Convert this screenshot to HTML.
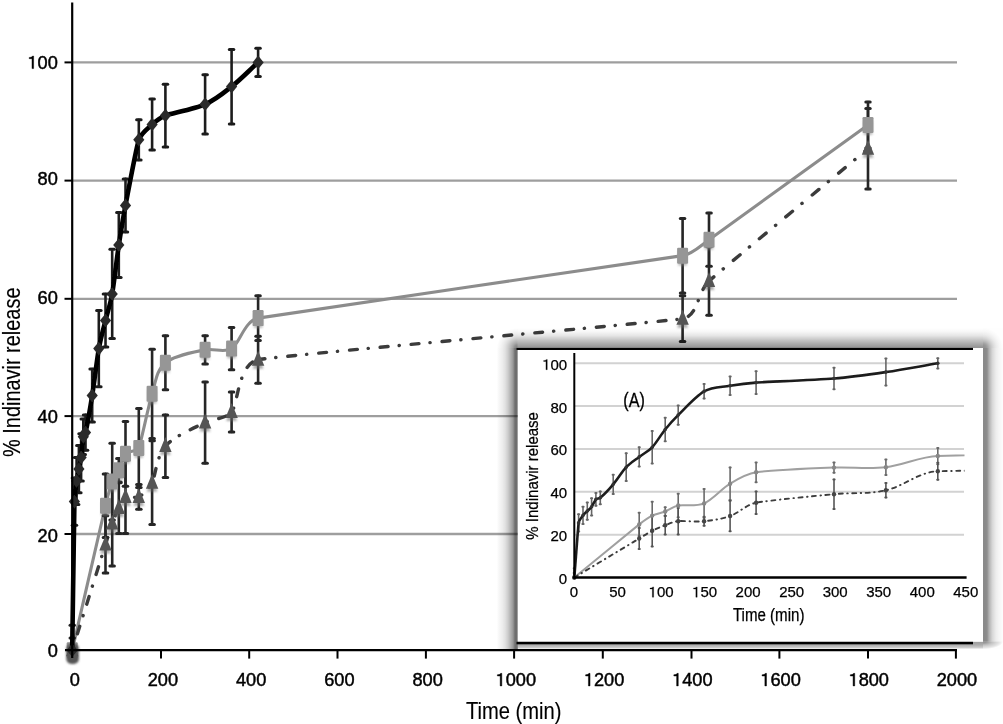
<!DOCTYPE html>
<html><head><meta charset="utf-8"><style>
html,body{margin:0;padding:0;background:#fff;}
body{width:1003px;height:724px;overflow:hidden;font-family:"Liberation Sans",sans-serif;}
svg{display:block;will-change:transform;}
</style></head><body>
<svg width="1003" height="724" viewBox="0 0 1003 724">
<defs>
<filter id="soft" x="-5%" y="-5%" width="110%" height="110%"><feGaussianBlur stdDeviation="0.6"/></filter>
<filter id="blob" x="-50%" y="-50%" width="200%" height="200%"><feGaussianBlur stdDeviation="1.3"/></filter>
<filter id="txt" x="-5%" y="-5%" width="110%" height="110%"><feGaussianBlur stdDeviation="0.25"/></filter>
<filter id="mshadow" x="-10%" y="-10%" width="120%" height="120%"><feGaussianBlur stdDeviation="1.3"/></filter>
<clipPath id="iclip"><rect x="560" y="350" width="404.5" height="240"/></clipPath>
<filter id="soft2" x="-5%" y="-5%" width="110%" height="110%"><feGaussianBlur stdDeviation="0.4"/></filter>
<filter id="shadow" x="-10%" y="-10%" width="120%" height="120%"><feGaussianBlur stdDeviation="5.5"/></filter>
<filter id="shadow2" x="-10%" y="-10%" width="120%" height="120%"><feGaussianBlur stdDeviation="1.6"/></filter>
<linearGradient id="gL" gradientUnits="userSpaceOnUse" x1="496.8" y1="0.0" x2="517.8" y2="0.0"><stop offset="0.0000" stop-color="#000" stop-opacity="0.000"/><stop offset="0.0952" stop-color="#000" stop-opacity="0.030"/><stop offset="0.2667" stop-color="#000" stop-opacity="0.070"/><stop offset="0.4000" stop-color="#000" stop-opacity="0.120"/><stop offset="0.5333" stop-color="#000" stop-opacity="0.200"/><stop offset="0.6667" stop-color="#000" stop-opacity="0.310"/><stop offset="0.7714" stop-color="#000" stop-opacity="0.400"/><stop offset="0.8286" stop-color="#000" stop-opacity="0.500"/><stop offset="0.8667" stop-color="#000" stop-opacity="0.570"/><stop offset="1.0000" stop-color="#000" stop-opacity="0.570"/></linearGradient><linearGradient id="gR" gradientUnits="userSpaceOnUse" x1="983.0" y1="0.0" x2="1003.0" y2="0.0"><stop offset="0.0000" stop-color="#000" stop-opacity="0.420"/><stop offset="0.0300" stop-color="#000" stop-opacity="0.470"/><stop offset="0.2000" stop-color="#000" stop-opacity="0.450"/><stop offset="0.3000" stop-color="#000" stop-opacity="0.310"/><stop offset="0.4650" stop-color="#000" stop-opacity="0.160"/><stop offset="0.6500" stop-color="#000" stop-opacity="0.070"/><stop offset="0.8500" stop-color="#000" stop-opacity="0.030"/><stop offset="1.0000" stop-color="#000" stop-opacity="0.010"/></linearGradient><linearGradient id="gT" gradientUnits="userSpaceOnUse" x1="0.0" y1="328.0" x2="0.0" y2="348.0"><stop offset="0.0000" stop-color="#000" stop-opacity="0.000"/><stop offset="0.1700" stop-color="#000" stop-opacity="0.030"/><stop offset="0.3800" stop-color="#000" stop-opacity="0.100"/><stop offset="0.5850" stop-color="#000" stop-opacity="0.220"/><stop offset="0.7900" stop-color="#000" stop-opacity="0.330"/><stop offset="0.9350" stop-color="#000" stop-opacity="0.400"/><stop offset="1.0000" stop-color="#000" stop-opacity="0.420"/></linearGradient><linearGradient id="gB" gradientUnits="userSpaceOnUse" x1="0.0" y1="641.6" x2="0.0" y2="649.2"><stop offset="0.0000" stop-color="#000" stop-opacity="0.380"/><stop offset="0.3553" stop-color="#000" stop-opacity="0.340"/><stop offset="0.5789" stop-color="#000" stop-opacity="0.280"/><stop offset="0.7763" stop-color="#000" stop-opacity="0.200"/><stop offset="0.9079" stop-color="#000" stop-opacity="0.090"/><stop offset="1.0000" stop-color="#000" stop-opacity="0.000"/></linearGradient><radialGradient id="cTL" gradientUnits="userSpaceOnUse" cx="0" cy="0" r="1" gradientTransform="translate(517.80 348.00) scale(21.00 20.00)"><stop offset="0.0000" stop-color="#000" stop-opacity="0.495"/><stop offset="0.0833" stop-color="#000" stop-opacity="0.481"/><stop offset="0.1667" stop-color="#000" stop-opacity="0.430"/><stop offset="0.2500" stop-color="#000" stop-opacity="0.345"/><stop offset="0.3333" stop-color="#000" stop-opacity="0.287"/><stop offset="0.4167" stop-color="#000" stop-opacity="0.230"/><stop offset="0.5000" stop-color="#000" stop-opacity="0.175"/><stop offset="0.5833" stop-color="#000" stop-opacity="0.126"/><stop offset="0.6667" stop-color="#000" stop-opacity="0.090"/><stop offset="0.7500" stop-color="#000" stop-opacity="0.061"/><stop offset="0.8333" stop-color="#000" stop-opacity="0.038"/><stop offset="0.9167" stop-color="#000" stop-opacity="0.020"/><stop offset="1.0000" stop-color="#000" stop-opacity="0.000"/></radialGradient><radialGradient id="cTR" gradientUnits="userSpaceOnUse" cx="0" cy="0" r="1" gradientTransform="translate(983.00 348.00) scale(20.00 20.00)"><stop offset="0.0000" stop-color="#000" stop-opacity="0.420"/><stop offset="0.0833" stop-color="#000" stop-opacity="0.427"/><stop offset="0.1667" stop-color="#000" stop-opacity="0.402"/><stop offset="0.2500" stop-color="#000" stop-opacity="0.344"/><stop offset="0.3333" stop-color="#000" stop-opacity="0.272"/><stop offset="0.4167" stop-color="#000" stop-opacity="0.211"/><stop offset="0.5000" stop-color="#000" stop-opacity="0.157"/><stop offset="0.5833" stop-color="#000" stop-opacity="0.112"/><stop offset="0.6667" stop-color="#000" stop-opacity="0.076"/><stop offset="0.7500" stop-color="#000" stop-opacity="0.053"/><stop offset="0.8333" stop-color="#000" stop-opacity="0.031"/><stop offset="0.9167" stop-color="#000" stop-opacity="0.018"/><stop offset="1.0000" stop-color="#000" stop-opacity="0.005"/></radialGradient><radialGradient id="cBL" gradientUnits="userSpaceOnUse" cx="0" cy="0" r="1" gradientTransform="translate(517.80 641.60) scale(21.00 7.60)"><stop offset="0.0000" stop-color="#000" stop-opacity="0.475"/><stop offset="0.0833" stop-color="#000" stop-opacity="0.470"/><stop offset="0.1667" stop-color="#000" stop-opacity="0.435"/><stop offset="0.2500" stop-color="#000" stop-opacity="0.367"/><stop offset="0.3333" stop-color="#000" stop-opacity="0.326"/><stop offset="0.4167" stop-color="#000" stop-opacity="0.282"/><stop offset="0.5000" stop-color="#000" stop-opacity="0.241"/><stop offset="0.5833" stop-color="#000" stop-opacity="0.204"/><stop offset="0.6667" stop-color="#000" stop-opacity="0.170"/><stop offset="0.7500" stop-color="#000" stop-opacity="0.138"/><stop offset="0.8333" stop-color="#000" stop-opacity="0.100"/><stop offset="0.9167" stop-color="#000" stop-opacity="0.054"/><stop offset="1.0000" stop-color="#000" stop-opacity="0.000"/></radialGradient><radialGradient id="cBR" gradientUnits="userSpaceOnUse" cx="0" cy="0" r="1" gradientTransform="translate(983.00 641.60) scale(20.00 7.60)"><stop offset="0.0000" stop-color="#000" stop-opacity="0.400"/><stop offset="0.0833" stop-color="#000" stop-opacity="0.417"/><stop offset="0.1667" stop-color="#000" stop-opacity="0.408"/><stop offset="0.2500" stop-color="#000" stop-opacity="0.366"/><stop offset="0.3333" stop-color="#000" stop-opacity="0.311"/><stop offset="0.4167" stop-color="#000" stop-opacity="0.264"/><stop offset="0.5000" stop-color="#000" stop-opacity="0.222"/><stop offset="0.5833" stop-color="#000" stop-opacity="0.190"/><stop offset="0.6667" stop-color="#000" stop-opacity="0.156"/><stop offset="0.7500" stop-color="#000" stop-opacity="0.130"/><stop offset="0.8333" stop-color="#000" stop-opacity="0.093"/><stop offset="0.9167" stop-color="#000" stop-opacity="0.051"/><stop offset="1.0000" stop-color="#000" stop-opacity="0.005"/></radialGradient>
</defs>
<rect width="1003" height="724" fill="#fff"/>
<line x1="72" y1="534.0" x2="957" y2="534.0" stroke="#9e9e9e" stroke-width="2.3"/>
<line x1="72" y1="416.1" x2="957" y2="416.1" stroke="#9e9e9e" stroke-width="2.3"/>
<line x1="72" y1="298.8" x2="957" y2="298.8" stroke="#9e9e9e" stroke-width="2.3"/>
<line x1="72" y1="180.6" x2="957" y2="180.6" stroke="#9e9e9e" stroke-width="2.3"/>
<line x1="72" y1="62.4" x2="957" y2="62.4" stroke="#9e9e9e" stroke-width="2.3"/>
<g filter="url(#soft)"><path d="M72.20 650.30 C83.86 599.70 103.48 514.28 105.50 505.73 C107.52 497.18 110.55 485.81 112.16 481.54 C113.77 477.27 116.84 474.44 118.82 470.33 C120.80 466.22 122.09 457.62 125.48 453.81 C128.87 450.00 136.73 452.57 138.80 447.91 C140.87 443.25 148.59 405.06 152.12 393.77 C155.65 382.47 156.31 370.24 165.41 362.69 C174.52 355.13 196.05 351.72 205.12 349.79 C214.20 347.86 223.64 353.37 231.60 348.61 C239.56 343.85 244.23 320.97 258.07 318.12 C271.92 315.27 671.93 257.50 682.58 255.65 C693.23 253.80 700.20 245.93 709.04 239.70 C717.88 233.48 812.36 165.18 868.00 125.05" fill="none" stroke="#8c8c8c" stroke-width="3.1" stroke-linejoin="round"/><path d="M72.20 650.30 C83.86 613.27 103.18 551.89 105.50 544.51 C107.82 537.13 110.15 528.93 112.16 523.43 C114.17 517.93 116.77 512.17 118.82 508.09 C120.87 504.01 121.50 499.11 125.48 496.88 C129.46 494.65 134.68 499.07 138.80 496.88 C142.92 494.69 148.96 488.75 152.12 482.72 C155.28 476.69 156.41 456.36 165.41 446.14 C174.42 435.92 196.26 427.12 205.12 422.54 C213.99 417.96 225.17 419.57 231.60 411.95 C238.03 404.32 238.02 363.90 258.07 359.76" fill="none" stroke="#3a3a3a" stroke-width="3.4" stroke-linecap="round" stroke-dasharray="7.87 10.94 0.20 11.96" stroke-dashoffset="13.57"/><path d="M258.07 359.76 C278.13 355.61 666.71 321.48 682.58 318.71 C698.45 315.94 697.17 291.94 709.04 281.05" fill="none" stroke="#3a3a3a" stroke-width="3.4" stroke-linecap="round" stroke-dasharray="7.87 10.94 0.20 11.96" stroke-dashoffset="0.84"/><path d="M709.04 281.05 C720.91 270.16 812.36 195.03 868.00 148.70" fill="none" stroke="#3a3a3a" stroke-width="3.4" stroke-linecap="round" stroke-dasharray="8.67 12.05 0.22 13.17" stroke-dashoffset="2.06"/><g stroke="#262626" stroke-width="2.6" stroke-linecap="round"><line x1="72.2" y1="638.1" x2="72.2" y2="650.3"/><line x1="70.0" y1="638.1" x2="74.5" y2="638.1" stroke-width="3"/><line x1="105.5" y1="515.8" x2="105.5" y2="573.0"/><line x1="103.2" y1="515.8" x2="107.8" y2="515.8" stroke-width="3"/><line x1="103.2" y1="573.0" x2="107.8" y2="573.0" stroke-width="3"/><line x1="112.2" y1="480.4" x2="112.2" y2="566.0"/><line x1="109.9" y1="480.4" x2="114.4" y2="480.4" stroke-width="3"/><line x1="109.9" y1="566.0" x2="114.4" y2="566.0" stroke-width="3"/><line x1="118.8" y1="482.7" x2="118.8" y2="533.5"/><line x1="116.6" y1="482.7" x2="121.1" y2="482.7" stroke-width="3"/><line x1="116.6" y1="533.5" x2="121.1" y2="533.5" stroke-width="3"/><line x1="125.5" y1="460.3" x2="125.5" y2="533.5"/><line x1="123.2" y1="460.3" x2="127.7" y2="460.3" stroke-width="3"/><line x1="123.2" y1="533.5" x2="127.7" y2="533.5" stroke-width="3"/><line x1="138.8" y1="484.5" x2="138.8" y2="509.3"/><line x1="136.6" y1="484.5" x2="141.1" y2="484.5" stroke-width="3"/><line x1="136.6" y1="509.3" x2="141.1" y2="509.3" stroke-width="3"/><line x1="152.1" y1="440.8" x2="152.1" y2="524.6"/><line x1="149.9" y1="440.8" x2="154.4" y2="440.8" stroke-width="3"/><line x1="149.9" y1="524.6" x2="154.4" y2="524.6" stroke-width="3"/><line x1="165.4" y1="414.9" x2="165.4" y2="477.4"/><line x1="163.2" y1="414.9" x2="167.7" y2="414.9" stroke-width="3"/><line x1="163.2" y1="477.4" x2="167.7" y2="477.4" stroke-width="3"/><line x1="205.1" y1="382.0" x2="205.1" y2="463.2"/><line x1="202.9" y1="382.0" x2="207.4" y2="382.0" stroke-width="3"/><line x1="202.9" y1="463.2" x2="207.4" y2="463.2" stroke-width="3"/><line x1="231.6" y1="392.0" x2="231.6" y2="432.0"/><line x1="229.3" y1="392.0" x2="233.8" y2="392.0" stroke-width="3"/><line x1="229.3" y1="432.0" x2="233.8" y2="432.0" stroke-width="3"/><line x1="258.1" y1="336.3" x2="258.1" y2="383.2"/><line x1="255.8" y1="336.3" x2="260.3" y2="336.3" stroke-width="3"/><line x1="255.8" y1="383.2" x2="260.3" y2="383.2" stroke-width="3"/><line x1="682.6" y1="295.8" x2="682.6" y2="341.6"/><line x1="680.3" y1="295.8" x2="684.8" y2="295.8" stroke-width="3"/><line x1="680.3" y1="341.6" x2="684.8" y2="341.6" stroke-width="3"/><line x1="709.0" y1="246.8" x2="709.0" y2="315.2"/><line x1="706.8" y1="246.8" x2="711.3" y2="246.8" stroke-width="3"/><line x1="706.8" y1="315.2" x2="711.3" y2="315.2" stroke-width="3"/><line x1="868.0" y1="108.5" x2="868.0" y2="188.9"/><line x1="865.8" y1="108.5" x2="870.2" y2="108.5" stroke-width="3"/><line x1="865.8" y1="188.9" x2="870.2" y2="188.9" stroke-width="3"/></g><g stroke="#262626" stroke-width="2.6" stroke-linecap="round"><line x1="72.2" y1="625.3" x2="72.2" y2="650.3"/><line x1="70.0" y1="625.3" x2="74.5" y2="625.3" stroke-width="3"/><line x1="105.5" y1="473.9" x2="105.5" y2="537.5"/><line x1="103.2" y1="473.9" x2="107.8" y2="473.9" stroke-width="3"/><line x1="103.2" y1="537.5" x2="107.8" y2="537.5" stroke-width="3"/><line x1="112.2" y1="443.2" x2="112.2" y2="519.9"/><line x1="109.9" y1="443.2" x2="114.4" y2="443.2" stroke-width="3"/><line x1="109.9" y1="519.9" x2="114.4" y2="519.9" stroke-width="3"/><line x1="118.8" y1="458.5" x2="118.8" y2="482.1"/><line x1="116.6" y1="458.5" x2="121.1" y2="458.5" stroke-width="3"/><line x1="116.6" y1="482.1" x2="121.1" y2="482.1" stroke-width="3"/><line x1="125.5" y1="421.4" x2="125.5" y2="486.3"/><line x1="123.2" y1="421.4" x2="127.7" y2="421.4" stroke-width="3"/><line x1="123.2" y1="486.3" x2="127.7" y2="486.3" stroke-width="3"/><line x1="138.8" y1="408.4" x2="138.8" y2="487.4"/><line x1="136.6" y1="408.4" x2="141.1" y2="408.4" stroke-width="3"/><line x1="136.6" y1="487.4" x2="141.1" y2="487.4" stroke-width="3"/><line x1="152.1" y1="349.2" x2="152.1" y2="438.5"/><line x1="149.9" y1="349.2" x2="154.4" y2="349.2" stroke-width="3"/><line x1="149.9" y1="438.5" x2="154.4" y2="438.5" stroke-width="3"/><line x1="165.4" y1="335.7" x2="165.4" y2="389.7"/><line x1="163.2" y1="335.7" x2="167.7" y2="335.7" stroke-width="3"/><line x1="163.2" y1="389.7" x2="167.7" y2="389.7" stroke-width="3"/><line x1="205.1" y1="335.7" x2="205.1" y2="363.9"/><line x1="202.9" y1="335.7" x2="207.4" y2="335.7" stroke-width="3"/><line x1="202.9" y1="363.9" x2="207.4" y2="363.9" stroke-width="3"/><line x1="231.6" y1="327.5" x2="231.6" y2="369.7"/><line x1="229.3" y1="327.5" x2="233.8" y2="327.5" stroke-width="3"/><line x1="229.3" y1="369.7" x2="233.8" y2="369.7" stroke-width="3"/><line x1="258.1" y1="295.8" x2="258.1" y2="340.4"/><line x1="255.8" y1="295.8" x2="260.3" y2="295.8" stroke-width="3"/><line x1="255.8" y1="340.4" x2="260.3" y2="340.4" stroke-width="3"/><line x1="682.6" y1="218.4" x2="682.6" y2="292.9"/><line x1="680.3" y1="218.4" x2="684.8" y2="218.4" stroke-width="3"/><line x1="680.3" y1="292.9" x2="684.8" y2="292.9" stroke-width="3"/><line x1="709.0" y1="213.1" x2="709.0" y2="266.3"/><line x1="706.8" y1="213.1" x2="711.3" y2="213.1" stroke-width="3"/><line x1="706.8" y1="266.3" x2="711.3" y2="266.3" stroke-width="3"/><line x1="868.0" y1="102.0" x2="868.0" y2="148.1"/><line x1="865.8" y1="102.0" x2="870.2" y2="102.0" stroke-width="3"/><line x1="865.8" y1="148.1" x2="870.2" y2="148.1" stroke-width="3"/></g><g filter="url(#mshadow)" opacity="0.55"><rect x="67.7" y="646.3" width="9" height="14" rx="1" fill="#888"/><rect x="101.0" y="501.7" width="9" height="14" rx="1" fill="#888"/><rect x="107.7" y="477.5" width="9" height="14" rx="1" fill="#888"/><rect x="114.3" y="466.3" width="9" height="14" rx="1" fill="#888"/><rect x="121.0" y="449.8" width="9" height="14" rx="1" fill="#888"/><rect x="134.3" y="443.9" width="9" height="14" rx="1" fill="#888"/><rect x="147.6" y="389.8" width="9" height="14" rx="1" fill="#888"/><rect x="160.9" y="358.7" width="9" height="14" rx="1" fill="#888"/><rect x="200.6" y="345.8" width="9" height="14" rx="1" fill="#888"/><rect x="227.1" y="344.6" width="9" height="14" rx="1" fill="#888"/><rect x="253.6" y="314.1" width="9" height="14" rx="1" fill="#888"/><rect x="678.1" y="251.7" width="9" height="14" rx="1" fill="#888"/><rect x="704.5" y="235.7" width="9" height="14" rx="1" fill="#888"/><rect x="863.5" y="121.0" width="9" height="14" rx="1" fill="#888"/><path d="M72.2 646.3 L77.7 659.3 L66.7 659.3 Z" fill="#666"/><path d="M105.5 540.5 L111.0 553.5 L100.0 553.5 Z" fill="#666"/><path d="M112.2 519.4 L117.7 532.4 L106.7 532.4 Z" fill="#666"/><path d="M118.8 504.1 L124.3 517.1 L113.3 517.1 Z" fill="#666"/><path d="M125.5 492.9 L131.0 505.9 L120.0 505.9 Z" fill="#666"/><path d="M138.8 492.9 L144.3 505.9 L133.3 505.9 Z" fill="#666"/><path d="M152.1 478.7 L157.6 491.7 L146.6 491.7 Z" fill="#666"/><path d="M165.4 442.1 L170.9 455.1 L159.9 455.1 Z" fill="#666"/><path d="M205.1 418.5 L210.6 431.5 L199.6 431.5 Z" fill="#666"/><path d="M231.6 407.9 L237.1 420.9 L226.1 420.9 Z" fill="#666"/><path d="M258.1 355.8 L263.6 368.8 L252.6 368.8 Z" fill="#666"/><path d="M682.6 314.7 L688.1 327.7 L677.1 327.7 Z" fill="#666"/><path d="M709.0 277.1 L714.5 290.1 L703.5 290.1 Z" fill="#666"/><path d="M868.0 144.7 L873.5 157.7 L862.5 157.7 Z" fill="#666"/></g><rect x="66.7" y="642.3" width="11" height="16" rx="1.2" fill="#969696"/><rect x="100.0" y="497.7" width="11" height="16" rx="1.2" fill="#969696"/><rect x="106.7" y="473.5" width="11" height="16" rx="1.2" fill="#969696"/><rect x="113.3" y="462.3" width="11" height="16" rx="1.2" fill="#969696"/><rect x="120.0" y="445.8" width="11" height="16" rx="1.2" fill="#969696"/><rect x="133.3" y="439.9" width="11" height="16" rx="1.2" fill="#969696"/><rect x="146.6" y="385.8" width="11" height="16" rx="1.2" fill="#969696"/><rect x="159.9" y="354.7" width="11" height="16" rx="1.2" fill="#969696"/><rect x="199.6" y="341.8" width="11" height="16" rx="1.2" fill="#969696"/><rect x="226.1" y="340.6" width="11" height="16" rx="1.2" fill="#969696"/><rect x="252.6" y="310.1" width="11" height="16" rx="1.2" fill="#969696"/><rect x="677.1" y="247.7" width="11" height="16" rx="1.2" fill="#969696"/><rect x="703.5" y="231.7" width="11" height="16" rx="1.2" fill="#969696"/><rect x="862.5" y="117.0" width="11" height="16" rx="1.2" fill="#969696"/><path d="M72.2 641.3 L78.4 656.3 L66.0 656.3 Z" fill="#555"/><path d="M105.5 535.5 L111.7 550.5 L99.3 550.5 Z" fill="#555"/><path d="M112.2 514.4 L118.4 529.4 L106.0 529.4 Z" fill="#555"/><path d="M118.8 499.1 L125.0 514.1 L112.6 514.1 Z" fill="#555"/><path d="M125.5 487.9 L131.7 502.9 L119.3 502.9 Z" fill="#555"/><path d="M138.8 487.9 L145.0 502.9 L132.6 502.9 Z" fill="#555"/><path d="M152.1 473.7 L158.3 488.7 L145.9 488.7 Z" fill="#555"/><path d="M165.4 437.1 L171.6 452.1 L159.2 452.1 Z" fill="#555"/><path d="M205.1 413.5 L211.3 428.5 L198.9 428.5 Z" fill="#555"/><path d="M231.6 402.9 L237.8 417.9 L225.4 417.9 Z" fill="#555"/><path d="M258.1 350.8 L264.3 365.8 L251.9 365.8 Z" fill="#555"/><path d="M682.6 309.7 L688.8 324.7 L676.4 324.7 Z" fill="#555"/><path d="M709.0 272.1 L715.2 287.1 L702.8 287.1 Z" fill="#555"/><path d="M868.0 139.7 L874.2 154.7 L861.8 154.7 Z" fill="#555"/><rect x="66.4" y="643.5" width="12.4" height="20.5" rx="5" fill="#555" filter="url(#blob)"/><g stroke="#1e1e1e" stroke-width="2.6" stroke-linecap="round"><line x1="74.4" y1="478.0" x2="74.4" y2="525.2"/><line x1="72.2" y1="478.0" x2="76.7" y2="478.0" stroke-width="3"/><line x1="72.2" y1="525.2" x2="76.7" y2="525.2" stroke-width="3"/><line x1="76.6" y1="457.4" x2="76.6" y2="504.5"/><line x1="74.4" y1="457.4" x2="78.9" y2="457.4" stroke-width="3"/><line x1="74.4" y1="504.5" x2="78.9" y2="504.5" stroke-width="3"/><line x1="78.9" y1="445.6" x2="78.9" y2="492.8"/><line x1="76.6" y1="445.6" x2="81.1" y2="445.6" stroke-width="3"/><line x1="76.6" y1="492.8" x2="81.1" y2="492.8" stroke-width="3"/><line x1="81.1" y1="433.8" x2="81.1" y2="480.9"/><line x1="78.8" y1="433.8" x2="83.3" y2="433.8" stroke-width="3"/><line x1="78.8" y1="480.9" x2="83.3" y2="480.9" stroke-width="3"/><line x1="83.3" y1="419.0" x2="83.3" y2="454.4"/><line x1="81.0" y1="419.0" x2="85.5" y2="419.0" stroke-width="3"/><line x1="81.0" y1="454.4" x2="85.5" y2="454.4" stroke-width="3"/><line x1="85.5" y1="414.9" x2="85.5" y2="450.3"/><line x1="83.3" y1="414.9" x2="87.8" y2="414.9" stroke-width="3"/><line x1="83.3" y1="450.3" x2="87.8" y2="450.3" stroke-width="3"/><line x1="92.2" y1="369.1" x2="92.2" y2="422.0"/><line x1="89.9" y1="369.1" x2="94.4" y2="369.1" stroke-width="3"/><line x1="89.9" y1="422.0" x2="94.4" y2="422.0" stroke-width="3"/><line x1="98.8" y1="310.5" x2="98.8" y2="386.7"/><line x1="96.6" y1="310.5" x2="101.1" y2="310.5" stroke-width="3"/><line x1="96.6" y1="386.7" x2="101.1" y2="386.7" stroke-width="3"/><line x1="105.5" y1="294.0" x2="105.5" y2="346.9"/><line x1="103.2" y1="294.0" x2="107.8" y2="294.0" stroke-width="3"/><line x1="103.2" y1="346.9" x2="107.8" y2="346.9" stroke-width="3"/><line x1="112.2" y1="249.2" x2="112.2" y2="338.6"/><line x1="109.9" y1="249.2" x2="114.4" y2="249.2" stroke-width="3"/><line x1="109.9" y1="338.6" x2="114.4" y2="338.6" stroke-width="3"/><line x1="118.8" y1="212.5" x2="118.8" y2="277.5"/><line x1="116.6" y1="212.5" x2="121.1" y2="212.5" stroke-width="3"/><line x1="116.6" y1="277.5" x2="121.1" y2="277.5" stroke-width="3"/><line x1="125.5" y1="178.9" x2="125.5" y2="232.0"/><line x1="123.2" y1="178.9" x2="127.7" y2="178.9" stroke-width="3"/><line x1="123.2" y1="232.0" x2="127.7" y2="232.0" stroke-width="3"/><line x1="138.8" y1="119.7" x2="138.8" y2="159.9"/><line x1="136.6" y1="119.7" x2="141.1" y2="119.7" stroke-width="3"/><line x1="136.6" y1="159.9" x2="141.1" y2="159.9" stroke-width="3"/><line x1="152.1" y1="99.0" x2="152.1" y2="149.9"/><line x1="149.9" y1="99.0" x2="154.4" y2="99.0" stroke-width="3"/><line x1="149.9" y1="149.9" x2="154.4" y2="149.9" stroke-width="3"/><line x1="165.4" y1="84.2" x2="165.4" y2="146.9"/><line x1="163.2" y1="84.2" x2="167.7" y2="84.2" stroke-width="3"/><line x1="163.2" y1="146.9" x2="167.7" y2="146.9" stroke-width="3"/><line x1="205.1" y1="74.8" x2="205.1" y2="133.9"/><line x1="202.9" y1="74.8" x2="207.4" y2="74.8" stroke-width="3"/><line x1="202.9" y1="133.9" x2="207.4" y2="133.9" stroke-width="3"/><line x1="231.6" y1="49.4" x2="231.6" y2="123.9"/><line x1="229.3" y1="49.4" x2="233.8" y2="49.4" stroke-width="3"/><line x1="229.3" y1="123.9" x2="233.8" y2="123.9" stroke-width="3"/><line x1="258.1" y1="48.2" x2="258.1" y2="76.6"/><line x1="255.8" y1="48.2" x2="260.3" y2="48.2" stroke-width="3"/><line x1="255.8" y1="76.6" x2="260.3" y2="76.6" stroke-width="3"/></g><path d="M72.20 650.30 C72.98 598.25 74.23 508.87 74.42 501.60 C74.61 494.33 76.07 485.11 76.64 480.95 C77.21 476.79 78.08 473.28 78.86 469.15 C79.64 465.02 80.51 461.51 81.08 457.35 C81.65 453.19 83.01 438.32 83.30 436.70 C83.59 435.08 85.17 434.17 85.52 432.57 C85.87 430.97 90.12 408.54 92.18 395.53 C94.24 382.52 97.07 358.58 98.84 348.61 C100.61 338.65 103.24 329.73 105.50 320.47 C107.76 311.20 110.50 303.44 112.16 294.04 C113.82 284.65 116.73 258.91 118.82 245.02 C120.91 231.13 122.86 219.25 125.48 205.45 C128.10 191.65 136.58 146.60 138.80 139.83 C141.02 133.07 147.99 128.22 152.12 124.46 C156.25 120.69 160.18 117.57 165.41 115.59 C170.64 113.60 194.91 108.82 205.12 104.35 C215.34 99.88 222.86 93.54 231.60 86.61 C240.34 79.68 248.81 70.85 258.07 62.36" fill="none" stroke="#000" stroke-width="4.6" stroke-linejoin="round"/><path d="M72.2 643.5 L77.8 650.3 L72.2 657.1 L66.6 650.3 Z" fill="#2a2a2a"/><path d="M74.4 494.8 L80.0 501.6 L74.4 508.4 L68.8 501.6 Z" fill="#2a2a2a"/><path d="M76.6 474.1 L82.2 480.9 L76.6 487.8 L71.0 480.9 Z" fill="#2a2a2a"/><path d="M78.9 462.3 L84.5 469.1 L78.9 475.9 L73.3 469.1 Z" fill="#2a2a2a"/><path d="M81.1 450.6 L86.7 457.4 L81.1 464.2 L75.5 457.4 Z" fill="#2a2a2a"/><path d="M83.3 429.9 L88.9 436.7 L83.3 443.5 L77.7 436.7 Z" fill="#2a2a2a"/><path d="M85.5 425.8 L91.1 432.6 L85.5 439.4 L79.9 432.6 Z" fill="#2a2a2a"/><path d="M92.2 388.7 L97.8 395.5 L92.2 402.3 L86.6 395.5 Z" fill="#2a2a2a"/><path d="M98.8 341.8 L104.4 348.6 L98.8 355.4 L93.2 348.6 Z" fill="#2a2a2a"/><path d="M105.5 313.7 L111.1 320.5 L105.5 327.3 L99.9 320.5 Z" fill="#2a2a2a"/><path d="M112.2 287.2 L117.8 294.0 L112.2 300.8 L106.6 294.0 Z" fill="#2a2a2a"/><path d="M118.8 238.2 L124.4 245.0 L118.8 251.8 L113.2 245.0 Z" fill="#2a2a2a"/><path d="M125.5 198.6 L131.1 205.4 L125.5 212.2 L119.9 205.4 Z" fill="#2a2a2a"/><path d="M138.8 133.0 L144.4 139.8 L138.8 146.6 L133.2 139.8 Z" fill="#2a2a2a"/><path d="M152.1 117.7 L157.7 124.5 L152.1 131.3 L146.5 124.5 Z" fill="#2a2a2a"/><path d="M165.4 108.8 L171.0 115.6 L165.4 122.4 L159.8 115.6 Z" fill="#2a2a2a"/><path d="M205.1 97.5 L210.7 104.3 L205.1 111.1 L199.5 104.3 Z" fill="#2a2a2a"/><path d="M231.6 79.8 L237.2 86.6 L231.6 93.4 L226.0 86.6 Z" fill="#2a2a2a"/><path d="M258.1 55.6 L263.7 62.4 L258.1 69.2 L252.5 62.4 Z" fill="#2a2a2a"/></g>
<line x1="72.2" y1="2.5" x2="72.2" y2="658" stroke="#000" stroke-width="2.2"/>
<line x1="65" y1="650.2" x2="957" y2="650.2" stroke="#000" stroke-width="2.2"/>
<line x1="64.5" y1="534.0" x2="72" y2="534.0" stroke="#000" stroke-width="2"/>
<line x1="64.5" y1="416.1" x2="72" y2="416.1" stroke="#000" stroke-width="2"/>
<line x1="64.5" y1="298.8" x2="72" y2="298.8" stroke="#000" stroke-width="2"/>
<line x1="64.5" y1="180.6" x2="72" y2="180.6" stroke="#000" stroke-width="2"/>
<line x1="64.5" y1="62.4" x2="72" y2="62.4" stroke="#000" stroke-width="2"/>
<line x1="161.0" y1="650" x2="161.0" y2="658.6" stroke="#000" stroke-width="2"/>
<line x1="249.2" y1="650" x2="249.2" y2="658.6" stroke="#000" stroke-width="2"/>
<line x1="337.5" y1="650" x2="337.5" y2="658.6" stroke="#000" stroke-width="2"/>
<line x1="425.9" y1="650" x2="425.9" y2="658.6" stroke="#000" stroke-width="2"/>
<line x1="514.1" y1="650" x2="514.1" y2="658.6" stroke="#000" stroke-width="2"/>
<line x1="602.8" y1="650" x2="602.8" y2="658.6" stroke="#000" stroke-width="2"/>
<line x1="691.5" y1="650" x2="691.5" y2="658.6" stroke="#000" stroke-width="2"/>
<line x1="779.4" y1="650" x2="779.4" y2="658.6" stroke="#000" stroke-width="2"/>
<line x1="868.0" y1="650" x2="868.0" y2="658.6" stroke="#000" stroke-width="2"/>
<line x1="955.9" y1="650" x2="955.9" y2="658.6" stroke="#000" stroke-width="2"/>
<text x="47.68" y="657.10" font-family="Liberation Sans, sans-serif" stroke="#000" font-size="18.2" stroke-width="0.45">0</text>
<text x="37.56" y="541.80" font-family="Liberation Sans, sans-serif" stroke="#000" font-size="18.2" stroke-width="0.45">20</text>
<text x="37.56" y="423.20" font-family="Liberation Sans, sans-serif" stroke="#000" font-size="18.2" stroke-width="0.45">40</text>
<text x="37.56" y="303.90" font-family="Liberation Sans, sans-serif" stroke="#000" font-size="18.2" stroke-width="0.45">60</text>
<text x="37.56" y="184.60" font-family="Liberation Sans, sans-serif" stroke="#000" font-size="18.2" stroke-width="0.45">80</text>
<path d="M515 0L696 0L696 1409L575 1409C540 1320 440 1268 200 1255L200 1118L515 1118Z" transform="translate(27.43 68.60) scale(0.00889 -0.00889)" fill="#000" stroke="#000" stroke-width="0.45" vector-effect="non-scaling-stroke"/><text x="37.56" y="68.60" font-family="Liberation Sans, sans-serif" stroke="#000" font-size="18.2" stroke-width="0.45">00</text>
<text x="69.64" y="685.90" font-family="Liberation Sans, sans-serif" stroke="#000" font-size="18.2" stroke-width="0.45">0</text>
<text x="147.75" y="685.90" font-family="Liberation Sans, sans-serif" stroke="#000" font-size="18.2" stroke-width="0.45">200</text>
<text x="235.98" y="685.90" font-family="Liberation Sans, sans-serif" stroke="#000" font-size="18.2" stroke-width="0.45">400</text>
<text x="324.21" y="685.90" font-family="Liberation Sans, sans-serif" stroke="#000" font-size="18.2" stroke-width="0.45">600</text>
<text x="412.44" y="685.90" font-family="Liberation Sans, sans-serif" stroke="#000" font-size="18.2" stroke-width="0.45">800</text>
<path d="M515 0L696 0L696 1409L575 1409C540 1320 440 1268 200 1255L200 1118L515 1118Z" transform="translate(495.61 685.90) scale(0.00889 -0.00889)" fill="#000" stroke="#000" stroke-width="0.45" vector-effect="non-scaling-stroke"/><text x="505.73" y="685.90" font-family="Liberation Sans, sans-serif" stroke="#000" font-size="18.2" stroke-width="0.45">000</text>
<path d="M515 0L696 0L696 1409L575 1409C540 1320 440 1268 200 1255L200 1118L515 1118Z" transform="translate(583.84 685.90) scale(0.00889 -0.00889)" fill="#000" stroke="#000" stroke-width="0.45" vector-effect="non-scaling-stroke"/><text x="593.96" y="685.90" font-family="Liberation Sans, sans-serif" stroke="#000" font-size="18.2" stroke-width="0.45">200</text>
<path d="M515 0L696 0L696 1409L575 1409C540 1320 440 1268 200 1255L200 1118L515 1118Z" transform="translate(672.07 685.90) scale(0.00889 -0.00889)" fill="#000" stroke="#000" stroke-width="0.45" vector-effect="non-scaling-stroke"/><text x="682.19" y="685.90" font-family="Liberation Sans, sans-serif" stroke="#000" font-size="18.2" stroke-width="0.45">400</text>
<path d="M515 0L696 0L696 1409L575 1409C540 1320 440 1268 200 1255L200 1118L515 1118Z" transform="translate(760.30 685.90) scale(0.00889 -0.00889)" fill="#000" stroke="#000" stroke-width="0.45" vector-effect="non-scaling-stroke"/><text x="770.42" y="685.90" font-family="Liberation Sans, sans-serif" stroke="#000" font-size="18.2" stroke-width="0.45">600</text>
<path d="M515 0L696 0L696 1409L575 1409C540 1320 440 1268 200 1255L200 1118L515 1118Z" transform="translate(848.53 685.90) scale(0.00889 -0.00889)" fill="#000" stroke="#000" stroke-width="0.45" vector-effect="non-scaling-stroke"/><text x="858.65" y="685.90" font-family="Liberation Sans, sans-serif" stroke="#000" font-size="18.2" stroke-width="0.45">800</text>
<text x="936.76" y="685.90" font-family="Liberation Sans, sans-serif" stroke="#000" font-size="18.2" stroke-width="0.45">2000</text>
<text x="513.7" y="718.6" font-family="Liberation Sans, sans-serif" stroke="#000" font-size="23.4" stroke-width="0.15" text-anchor="middle" textLength="95.5" lengthAdjust="spacingAndGlyphs">Time (min)</text>
<text transform="translate(19.6 372.25) rotate(-90)" x="0" y="0" font-family="Liberation Sans, sans-serif" stroke="#000" font-size="23.3" stroke-width="0.15" text-anchor="middle" textLength="169.5" lengthAdjust="spacingAndGlyphs">% Indinavir release</text>
<rect x="496.8" y="348.0" width="21.0" height="301.0" fill="url(#gL)"/><rect x="983.0" y="348.0" width="20.0" height="293.6" fill="url(#gR)"/><rect x="517.8" y="328.0" width="465.2" height="20.0" fill="url(#gT)"/><rect x="517.8" y="641.6" width="465.2" height="7.6" fill="url(#gB)"/><rect x="496.8" y="328.0" width="21.0" height="20.0" fill="url(#cTL)"/><rect x="983.0" y="328.0" width="20.0" height="20.0" fill="url(#cTR)"/><rect x="983.0" y="641.6" width="20.0" height="7.6" fill="url(#cBR)"/><rect x="517.8" y="348" width="465.2" height="293.6" fill="#fff"/><rect x="516.5" y="347.9" width="456.5" height="2.1" fill="#000"/><rect x="516.5" y="641.8" width="456.5" height="2.5" fill="#000"/><line x1="575" y1="534.7" x2="964" y2="534.7" stroke="#d2d2d2" stroke-width="2"/><line x1="575" y1="491.8" x2="964" y2="491.8" stroke="#d2d2d2" stroke-width="2"/><line x1="575" y1="449.0" x2="964" y2="449.0" stroke="#d2d2d2" stroke-width="2"/><line x1="575" y1="406.1" x2="964" y2="406.1" stroke="#d2d2d2" stroke-width="2"/><line x1="575" y1="363.3" x2="964" y2="363.3" stroke="#d2d2d2" stroke-width="2"/><g filter="url(#soft2)"><g clip-path="url(#iclip)"><path d="M574.30 577.50 C597.02 558.91 634.92 527.79 639.21 524.38 C643.51 520.97 647.93 517.71 652.19 515.60 C656.46 513.48 660.74 513.25 665.18 511.53 C669.62 509.80 673.26 506.55 678.16 505.53 C683.06 504.50 695.72 506.92 704.12 503.39 C712.53 499.85 721.58 488.77 730.09 483.68 C738.60 478.59 746.25 473.84 756.05 472.33 C765.86 470.81 815.79 468.33 833.95 467.62 C852.11 466.90 867.82 469.20 885.88 467.19 C903.94 465.18 919.23 456.76 937.81 456.05 C956.39 455.34 1750.41 433.93 1768.69 433.34 C1786.97 432.75 1802.49 429.92 1820.62 427.56 C1838.75 425.20 2023.15 400.55 2132.20 386.01" fill="none" stroke="#a0a0a0" stroke-width="2" /><path d="M574.30 577.50 C597.02 563.86 634.68 541.23 639.21 538.52 C643.75 535.80 647.79 533.06 652.19 530.80 C656.60 528.55 660.71 526.89 665.18 525.24 C669.64 523.58 673.42 521.66 678.16 521.17 C682.90 520.67 695.08 522.06 704.12 521.17 C713.17 520.27 721.36 519.12 730.09 516.02 C738.82 512.93 746.07 504.85 756.05 502.74 C766.04 500.64 815.81 495.91 833.95 494.18 C852.09 492.44 868.08 494.25 885.88 490.32 C903.68 486.39 918.46 472.00 937.81 471.26 C957.16 470.51 1749.90 456.87 1768.69 456.26 C1787.48 455.65 1802.09 445.70 1820.62 442.55 C1839.15 439.41 2023.15 411.37 2132.20 394.57" fill="none" stroke="#3c3c3c" stroke-width="1.9" stroke-linecap="round" stroke-dasharray="4 4.5 0.5 4.5"/></g><g stroke="#6a6a6a" stroke-width="1.6" stroke-linecap="round"><line x1="574.3" y1="568.3" x2="574.3" y2="577.5"/><line x1="573.7" y1="568.3" x2="574.9" y2="568.3" stroke-width="2"/><line x1="639.2" y1="512.8" x2="639.2" y2="535.9"/><line x1="638.6" y1="512.8" x2="639.8" y2="512.8" stroke-width="2"/><line x1="638.6" y1="535.9" x2="639.8" y2="535.9" stroke-width="2"/><line x1="652.2" y1="501.7" x2="652.2" y2="529.5"/><line x1="651.6" y1="501.7" x2="652.8" y2="501.7" stroke-width="2"/><line x1="651.6" y1="529.5" x2="652.8" y2="529.5" stroke-width="2"/><line x1="665.2" y1="507.2" x2="665.2" y2="515.8"/><line x1="664.6" y1="507.2" x2="665.8" y2="507.2" stroke-width="2"/><line x1="664.6" y1="515.8" x2="665.8" y2="515.8" stroke-width="2"/><line x1="678.2" y1="493.7" x2="678.2" y2="517.3"/><line x1="677.6" y1="493.7" x2="678.8" y2="493.7" stroke-width="2"/><line x1="677.6" y1="517.3" x2="678.8" y2="517.3" stroke-width="2"/><line x1="704.1" y1="489.0" x2="704.1" y2="517.7"/><line x1="703.5" y1="489.0" x2="704.7" y2="489.0" stroke-width="2"/><line x1="703.5" y1="517.7" x2="704.7" y2="517.7" stroke-width="2"/><line x1="730.1" y1="467.4" x2="730.1" y2="500.0"/><line x1="729.5" y1="467.4" x2="730.7" y2="467.4" stroke-width="2"/><line x1="729.5" y1="500.0" x2="730.7" y2="500.0" stroke-width="2"/><line x1="756.1" y1="462.5" x2="756.1" y2="482.2"/><line x1="755.5" y1="462.5" x2="756.7" y2="462.5" stroke-width="2"/><line x1="755.5" y1="482.2" x2="756.7" y2="482.2" stroke-width="2"/><line x1="834.0" y1="462.5" x2="834.0" y2="472.8"/><line x1="833.4" y1="462.5" x2="834.6" y2="462.5" stroke-width="2"/><line x1="833.4" y1="472.8" x2="834.6" y2="472.8" stroke-width="2"/><line x1="885.9" y1="459.5" x2="885.9" y2="474.9"/><line x1="885.3" y1="459.5" x2="886.5" y2="459.5" stroke-width="2"/><line x1="885.3" y1="474.9" x2="886.5" y2="474.9" stroke-width="2"/><line x1="937.8" y1="447.9" x2="937.8" y2="464.2"/><line x1="937.2" y1="447.9" x2="938.4" y2="447.9" stroke-width="2"/><line x1="937.2" y1="464.2" x2="938.4" y2="464.2" stroke-width="2"/></g><g stroke="#555" stroke-width="1.6" stroke-linecap="round"><line x1="574.3" y1="573.0" x2="574.3" y2="577.5"/><line x1="573.7" y1="573.0" x2="574.9" y2="573.0" stroke-width="2"/><line x1="639.2" y1="528.0" x2="639.2" y2="549.0"/><line x1="638.6" y1="528.0" x2="639.8" y2="528.0" stroke-width="2"/><line x1="638.6" y1="549.0" x2="639.8" y2="549.0" stroke-width="2"/><line x1="652.2" y1="515.2" x2="652.2" y2="546.4"/><line x1="651.6" y1="515.2" x2="652.8" y2="515.2" stroke-width="2"/><line x1="651.6" y1="546.4" x2="652.8" y2="546.4" stroke-width="2"/><line x1="665.2" y1="516.0" x2="665.2" y2="534.4"/><line x1="664.6" y1="516.0" x2="665.8" y2="516.0" stroke-width="2"/><line x1="664.6" y1="534.4" x2="665.8" y2="534.4" stroke-width="2"/><line x1="678.2" y1="507.9" x2="678.2" y2="534.4"/><line x1="677.6" y1="507.9" x2="678.8" y2="507.9" stroke-width="2"/><line x1="677.6" y1="534.4" x2="678.8" y2="534.4" stroke-width="2"/><line x1="704.1" y1="516.7" x2="704.1" y2="525.7"/><line x1="703.5" y1="516.7" x2="704.7" y2="516.7" stroke-width="2"/><line x1="703.5" y1="525.7" x2="704.7" y2="525.7" stroke-width="2"/><line x1="730.1" y1="500.8" x2="730.1" y2="531.2"/><line x1="729.5" y1="500.8" x2="730.7" y2="500.8" stroke-width="2"/><line x1="729.5" y1="531.2" x2="730.7" y2="531.2" stroke-width="2"/><line x1="756.1" y1="491.4" x2="756.1" y2="514.1"/><line x1="755.5" y1="491.4" x2="756.7" y2="491.4" stroke-width="2"/><line x1="755.5" y1="514.1" x2="756.7" y2="514.1" stroke-width="2"/><line x1="834.0" y1="479.4" x2="834.0" y2="509.0"/><line x1="833.4" y1="479.4" x2="834.6" y2="479.4" stroke-width="2"/><line x1="833.4" y1="509.0" x2="834.6" y2="509.0" stroke-width="2"/><line x1="885.9" y1="483.0" x2="885.9" y2="497.6"/><line x1="885.3" y1="483.0" x2="886.5" y2="483.0" stroke-width="2"/><line x1="885.3" y1="497.6" x2="886.5" y2="497.6" stroke-width="2"/><line x1="937.8" y1="462.7" x2="937.8" y2="479.8"/><line x1="937.2" y1="462.7" x2="938.4" y2="462.7" stroke-width="2"/><line x1="937.2" y1="479.8" x2="938.4" y2="479.8" stroke-width="2"/></g><g stroke="#666" stroke-width="1.6" stroke-linecap="round"><line x1="578.6" y1="514.3" x2="578.6" y2="531.4"/><line x1="578.0" y1="514.3" x2="579.2" y2="514.3" stroke-width="2"/><line x1="578.0" y1="531.4" x2="579.2" y2="531.4" stroke-width="2"/><line x1="583.0" y1="506.8" x2="583.0" y2="524.0"/><line x1="582.4" y1="506.8" x2="583.6" y2="506.8" stroke-width="2"/><line x1="582.4" y1="524.0" x2="583.6" y2="524.0" stroke-width="2"/><line x1="587.3" y1="502.5" x2="587.3" y2="519.7"/><line x1="586.7" y1="502.5" x2="587.9" y2="502.5" stroke-width="2"/><line x1="586.7" y1="519.7" x2="587.9" y2="519.7" stroke-width="2"/><line x1="591.6" y1="498.2" x2="591.6" y2="515.4"/><line x1="591.0" y1="498.2" x2="592.2" y2="498.2" stroke-width="2"/><line x1="591.0" y1="515.4" x2="592.2" y2="515.4" stroke-width="2"/><line x1="595.9" y1="492.9" x2="595.9" y2="505.7"/><line x1="595.3" y1="492.9" x2="596.5" y2="492.9" stroke-width="2"/><line x1="595.3" y1="505.7" x2="596.5" y2="505.7" stroke-width="2"/><line x1="600.3" y1="491.4" x2="600.3" y2="504.2"/><line x1="599.7" y1="491.4" x2="600.9" y2="491.4" stroke-width="2"/><line x1="599.7" y1="504.2" x2="600.9" y2="504.2" stroke-width="2"/><line x1="613.2" y1="474.7" x2="613.2" y2="494.0"/><line x1="612.6" y1="474.7" x2="613.8" y2="474.7" stroke-width="2"/><line x1="612.6" y1="494.0" x2="613.8" y2="494.0" stroke-width="2"/><line x1="626.2" y1="453.3" x2="626.2" y2="481.1"/><line x1="625.6" y1="453.3" x2="626.8" y2="453.3" stroke-width="2"/><line x1="625.6" y1="481.1" x2="626.8" y2="481.1" stroke-width="2"/><line x1="639.2" y1="447.3" x2="639.2" y2="466.5"/><line x1="638.6" y1="447.3" x2="639.8" y2="447.3" stroke-width="2"/><line x1="638.6" y1="466.5" x2="639.8" y2="466.5" stroke-width="2"/><line x1="652.2" y1="431.0" x2="652.2" y2="463.5"/><line x1="651.6" y1="431.0" x2="652.8" y2="431.0" stroke-width="2"/><line x1="651.6" y1="463.5" x2="652.8" y2="463.5" stroke-width="2"/><line x1="665.2" y1="417.7" x2="665.2" y2="441.3"/><line x1="664.6" y1="417.7" x2="665.8" y2="417.7" stroke-width="2"/><line x1="664.6" y1="441.3" x2="665.8" y2="441.3" stroke-width="2"/><line x1="678.2" y1="405.5" x2="678.2" y2="424.8"/><line x1="677.6" y1="405.5" x2="678.8" y2="405.5" stroke-width="2"/><line x1="677.6" y1="424.8" x2="678.8" y2="424.8" stroke-width="2"/><line x1="704.1" y1="384.1" x2="704.1" y2="398.6"/><line x1="703.5" y1="384.1" x2="704.7" y2="384.1" stroke-width="2"/><line x1="703.5" y1="398.6" x2="704.7" y2="398.6" stroke-width="2"/><line x1="730.1" y1="376.6" x2="730.1" y2="395.0"/><line x1="729.5" y1="376.6" x2="730.7" y2="376.6" stroke-width="2"/><line x1="729.5" y1="395.0" x2="730.7" y2="395.0" stroke-width="2"/><line x1="756.1" y1="371.2" x2="756.1" y2="393.9"/><line x1="755.5" y1="371.2" x2="756.7" y2="371.2" stroke-width="2"/><line x1="755.5" y1="393.9" x2="756.7" y2="393.9" stroke-width="2"/><line x1="834.0" y1="367.8" x2="834.0" y2="389.2"/><line x1="833.4" y1="367.8" x2="834.6" y2="367.8" stroke-width="2"/><line x1="833.4" y1="389.2" x2="834.6" y2="389.2" stroke-width="2"/><line x1="885.9" y1="358.6" x2="885.9" y2="385.6"/><line x1="885.3" y1="358.6" x2="886.5" y2="358.6" stroke-width="2"/><line x1="885.3" y1="385.6" x2="886.5" y2="385.6" stroke-width="2"/><line x1="937.8" y1="358.2" x2="937.8" y2="368.4"/><line x1="937.2" y1="358.2" x2="938.4" y2="358.2" stroke-width="2"/><line x1="937.2" y1="368.4" x2="938.4" y2="368.4" stroke-width="2"/></g><path d="M574.30 577.50 C575.81 558.38 578.21 525.88 578.63 522.88 C579.05 519.88 581.69 517.10 582.95 515.38 C584.22 513.66 585.77 512.60 587.28 511.10 C588.80 509.60 590.35 508.53 591.61 506.81 C592.87 505.10 594.83 500.47 595.94 499.32 C597.05 498.16 599.05 498.87 600.26 497.82 C601.48 496.77 609.01 489.32 613.25 484.32 C617.49 479.32 622.24 471.40 626.23 467.19 C630.22 462.98 634.72 460.35 639.21 456.91 C643.70 453.46 648.30 451.38 652.19 447.27 C656.09 443.16 660.92 434.76 665.18 429.49 C669.43 424.22 673.32 419.87 678.16 415.14 C683.00 410.40 696.03 395.93 704.12 391.36 C712.22 386.79 721.06 387.32 730.09 385.79 C739.12 384.26 746.92 383.22 756.05 382.58 C765.19 381.94 815.70 379.98 833.95 378.51 C852.20 377.03 867.76 374.74 885.88 372.08 C904.00 369.43 919.63 366.37 937.81 363.30" fill="none" stroke="#1c1c1c" stroke-width="2.6" stroke-linejoin="round"/><circle cx="574.3" cy="577.5" r="2.2" fill="#888"/><circle cx="639.2" cy="524.4" r="2.2" fill="#888"/><circle cx="652.2" cy="515.6" r="2.2" fill="#888"/><circle cx="665.2" cy="511.5" r="2.2" fill="#888"/><circle cx="678.2" cy="505.5" r="2.2" fill="#888"/><circle cx="704.1" cy="503.4" r="2.2" fill="#888"/><circle cx="730.1" cy="483.7" r="2.2" fill="#888"/><circle cx="756.1" cy="472.3" r="2.2" fill="#888"/><circle cx="834.0" cy="467.6" r="2.2" fill="#888"/><circle cx="885.9" cy="467.2" r="2.2" fill="#888"/><circle cx="937.8" cy="456.0" r="2.2" fill="#888"/><circle cx="574.3" cy="577.5" r="2.2" fill="#444"/><circle cx="639.2" cy="538.5" r="2.2" fill="#444"/><circle cx="652.2" cy="530.8" r="2.2" fill="#444"/><circle cx="665.2" cy="525.2" r="2.2" fill="#444"/><circle cx="678.2" cy="521.2" r="2.2" fill="#444"/><circle cx="704.1" cy="521.2" r="2.2" fill="#444"/><circle cx="730.1" cy="516.0" r="2.2" fill="#444"/><circle cx="756.1" cy="502.7" r="2.2" fill="#444"/><circle cx="834.0" cy="494.2" r="2.2" fill="#444"/><circle cx="885.9" cy="490.3" r="2.2" fill="#444"/><circle cx="937.8" cy="471.3" r="2.2" fill="#444"/><circle cx="574.3" cy="577.5" r="1.8" fill="#333"/><circle cx="578.6" cy="522.9" r="1.8" fill="#333"/><circle cx="583.0" cy="515.4" r="1.8" fill="#333"/><circle cx="587.3" cy="511.1" r="1.8" fill="#333"/><circle cx="591.6" cy="506.8" r="1.8" fill="#333"/><circle cx="595.9" cy="499.3" r="1.8" fill="#333"/><circle cx="600.3" cy="497.8" r="1.8" fill="#333"/><circle cx="613.2" cy="484.3" r="1.8" fill="#333"/><circle cx="626.2" cy="467.2" r="1.8" fill="#333"/><circle cx="639.2" cy="456.9" r="1.8" fill="#333"/><circle cx="652.2" cy="447.3" r="1.8" fill="#333"/><circle cx="665.2" cy="429.5" r="1.8" fill="#333"/><circle cx="678.2" cy="415.1" r="1.8" fill="#333"/><circle cx="704.1" cy="391.4" r="1.8" fill="#333"/><circle cx="730.1" cy="385.8" r="1.8" fill="#333"/><circle cx="756.1" cy="382.6" r="1.8" fill="#333"/><circle cx="834.0" cy="378.5" r="1.8" fill="#333"/><circle cx="885.9" cy="372.1" r="1.8" fill="#333"/><circle cx="937.8" cy="363.3" r="1.8" fill="#333"/></g><line x1="574.3" y1="353" x2="574.3" y2="578.5" stroke="#000" stroke-width="2"/><line x1="573.3" y1="577.5" x2="966.6" y2="577.5" stroke="#000" stroke-width="2.4"/><text x="558.86" y="583.90" font-family="Liberation Sans, sans-serif" stroke="#000" font-size="15" stroke-width="0.25">0</text><text x="550.52" y="541.06" font-family="Liberation Sans, sans-serif" stroke="#000" font-size="15" stroke-width="0.25">20</text><text x="550.52" y="498.22" font-family="Liberation Sans, sans-serif" stroke="#000" font-size="15" stroke-width="0.25">40</text><text x="550.52" y="455.38" font-family="Liberation Sans, sans-serif" stroke="#000" font-size="15" stroke-width="0.25">60</text><text x="550.52" y="412.54" font-family="Liberation Sans, sans-serif" stroke="#000" font-size="15" stroke-width="0.25">80</text><path d="M515 0L696 0L696 1409L575 1409C540 1320 440 1268 200 1255L200 1118L515 1118Z" transform="translate(542.17 369.70) scale(0.00732 -0.00732)" fill="#000" stroke="#000" stroke-width="0.25" vector-effect="non-scaling-stroke"/><text x="550.52" y="369.70" font-family="Liberation Sans, sans-serif" stroke="#000" font-size="15" stroke-width="0.25">00</text><text x="569.83" y="597.20" font-family="Liberation Sans, sans-serif" stroke="#000" font-size="15" stroke-width="0.25">0</text><text x="609.19" y="597.20" font-family="Liberation Sans, sans-serif" stroke="#000" font-size="15" stroke-width="0.25">50</text><path d="M515 0L696 0L696 1409L575 1409C540 1320 440 1268 200 1255L200 1118L515 1118Z" transform="translate(648.55 597.20) scale(0.00732 -0.00732)" fill="#000" stroke="#000" stroke-width="0.25" vector-effect="non-scaling-stroke"/><text x="656.89" y="597.20" font-family="Liberation Sans, sans-serif" stroke="#000" font-size="15" stroke-width="0.25">00</text><path d="M515 0L696 0L696 1409L575 1409C540 1320 440 1268 200 1255L200 1118L515 1118Z" transform="translate(692.08 597.20) scale(0.00732 -0.00732)" fill="#000" stroke="#000" stroke-width="0.25" vector-effect="non-scaling-stroke"/><text x="700.42" y="597.20" font-family="Liberation Sans, sans-serif" stroke="#000" font-size="15" stroke-width="0.25">50</text><text x="735.61" y="597.20" font-family="Liberation Sans, sans-serif" stroke="#000" font-size="15" stroke-width="0.25">200</text><text x="779.14" y="597.20" font-family="Liberation Sans, sans-serif" stroke="#000" font-size="15" stroke-width="0.25">250</text><text x="822.67" y="597.20" font-family="Liberation Sans, sans-serif" stroke="#000" font-size="15" stroke-width="0.25">300</text><text x="866.20" y="597.20" font-family="Liberation Sans, sans-serif" stroke="#000" font-size="15" stroke-width="0.25">350</text><text x="909.73" y="597.20" font-family="Liberation Sans, sans-serif" stroke="#000" font-size="15" stroke-width="0.25">400</text><text x="953.26" y="597.20" font-family="Liberation Sans, sans-serif" stroke="#000" font-size="15" stroke-width="0.25">450</text><text x="768.7" y="620.5" font-family="Liberation Sans, sans-serif" stroke="#000" font-size="17.6" stroke-width="0.25" text-anchor="middle" textLength="71.6" lengthAdjust="spacingAndGlyphs">Time (min)</text><text transform="translate(537.5 475.85) rotate(-90)" font-family="Liberation Sans, sans-serif" stroke="#000" font-size="17" stroke-width="0.25" text-anchor="middle" textLength="127.6" lengthAdjust="spacingAndGlyphs">% Indinavir release</text><text x="634.1" y="407.2" font-family="Liberation Sans, sans-serif" stroke="#000" font-size="20.3" stroke-width="0.3" text-anchor="middle" textLength="21.5" lengthAdjust="spacingAndGlyphs">(A)</text>
</svg>
</body></html>
